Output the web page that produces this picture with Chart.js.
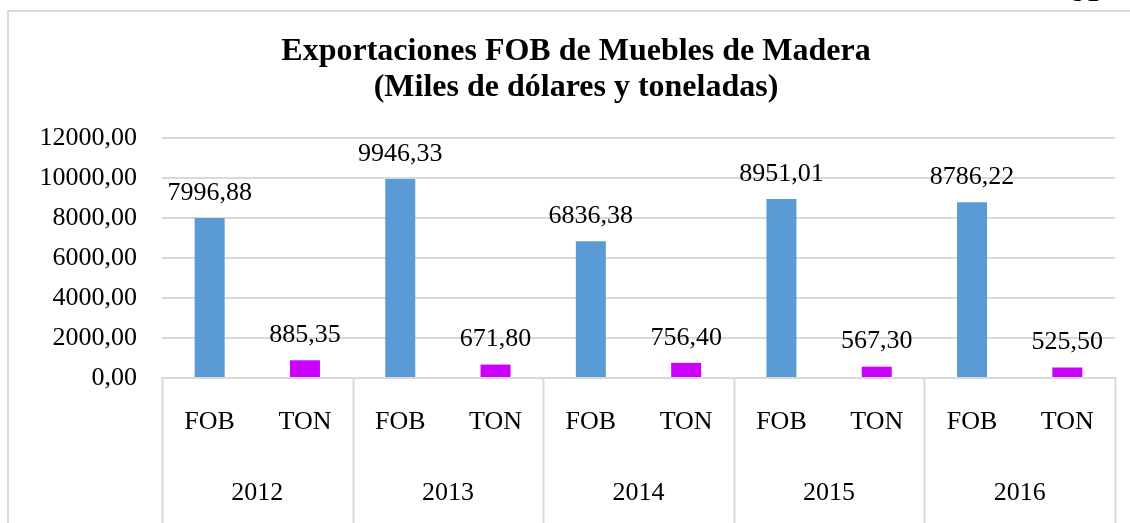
<!DOCTYPE html>
<html>
<head>
<meta charset="utf-8">
<script src="https://cdn.jsdelivr.net/npm/chart.js@4/dist/chart.umd.min.js"></script>
<style>
  body { margin: 0; overflow: hidden; background: #fff; width: 1130px; height: 523px; position: relative; }
  #frame { position: absolute; left: 7px; top: 10px; width: 1140px; height: 560px; border: 2px solid #d9d9d9; }
  #chart { position: absolute; left: 0; top: 0; }
  #pageno { position: absolute; left: 1072px; top: -24px; font: 28px "Liberation Serif", serif; color: #000; }
</style>
</head>
<body>
<div id="pageno">91</div>
<div id="frame"><canvas id="chart" width="1140" height="520"></canvas></div>
<script>
// values
const years = ['2012', '2013', '2014', '2015', '2016'];
const fobValues = [7996.88, 9946.33, 6836.38, 8951.01, 8786.22];
const tonValues = [885.35, 671.80, 756.40, 567.30, 525.50];
const yTicks = [0, 2000, 4000, 6000, 8000, 10000, 12000];

const FONT = '"Liberation Serif", "Times New Roman", serif';
const BLUE = '#5b9bd5';
const PINK = '#cc00ff';
const GRID = '#d9d9d9';

// interleave FOB / TON per year
let labels = [];
let values = [];
let colors = [];
for (let i = 0; i < years.length; i++) {
  labels.push('FOB', 'TON');
  values.push(fobValues[i], tonValues[i]);
  colors.push(BLUE, PINK);
}

function fmt(v) {
  return v.toFixed(2).replace('.', ',');
}

// value labels above each bar
const barLabels = {
  id: 'barLabels',
  afterDatasetsDraw(chart) {
    const ctx = chart.ctx;
    const meta = chart.getDatasetMeta(0);
    ctx.save();
    ctx.font = '26px ' + FONT;
    ctx.fillStyle = '#000';
    ctx.textAlign = 'center';
    ctx.textBaseline = 'middle';
    meta.data.forEach((bar, i) => {
      ctx.fillText(fmt(values[i]), bar.x, bar.y - 25);
    });
    ctx.restore();
  }
};

// vertical separators between the year groups, below the plot
const groupLines = {
  id: 'groupLines',
  afterDraw(chart) {
    const x = chart.scales.x;
    const ctx = chart.ctx;
    const step = x.getPixelForValue(1) - x.getPixelForValue(0);
    ctx.save();
    ctx.strokeStyle = GRID;
    ctx.lineWidth = 2;
    for (let i = 0; i <= years.length; i++) {
      const px = Math.round(x.getPixelForValue(2 * i) - step / 2) + 0.5;
      ctx.beginPath();
      ctx.moveTo(px, chart.chartArea.bottom);
      ctx.lineTo(px, chart.height);
      ctx.stroke();
    }
    ctx.restore();
  }
};

new Chart(document.getElementById('chart'), {
  type: 'bar',
  data: {
    labels: labels,
    datasets: [{
      data: values,
      backgroundColor: colors,
      borderWidth: 0,
      barPercentage: 0.315,
      categoryPercentage: 1
    }]
  },
  plugins: [barLabels, groupLines],
  options: {
    responsive: false,
    animation: false,
    layout: { padding: { left: 28, right: 34, top: 0, bottom: 14 } },
    plugins: {
      legend: { display: false },
      tooltip: { enabled: false },
      title: {
        display: true,
        text: ['Exportaciones FOB de Muebles de Madera', '(Miles de dólares y toneladas)'],
        color: '#000',
        font: { family: FONT, size: 32, weight: 'bold', lineHeight: 1.125 },
        padding: { top: 22, bottom: 32 }
      }
    },
    scales: {
      y: {
        min: 0,
        max: 12000,
        afterBuildTicks: (s) => { s.ticks = yTicks.map(v => ({ value: v })); },
        afterFit: (s) => { s.width = 125; },
        grid: { color: GRID, lineWidth: 2, drawTicks: false },
        border: { display: false },
        ticks: {
          color: '#000',
          padding: 25,
          autoSkip: false,
          font: { family: FONT, size: 26 },
          callback: (v) => fmt(v)
        }
      },
      x: {
        afterFit: (s) => { s.height = 60; },
        grid: { display: false, drawTicks: false },
        border: { display: true, color: GRID, width: 2 },
        ticks: {
          color: '#000',
          padding: 29,
          maxRotation: 0,
          autoSkip: false,
          font: { family: FONT, size: 26 }
        }
      },
      x2: {
        type: 'category',
        position: 'bottom',
        labels: years,
        offset: true,
        afterFit: (s) => { s.height = 80; },
        grid: { display: false, drawTicks: false },
        border: { display: false },
        ticks: {
          color: '#000',
          padding: 40,
          maxRotation: 0,
          font: { family: FONT, size: 26 }
        }
      }
    }
  }
});
</script>
</body>
</html>
